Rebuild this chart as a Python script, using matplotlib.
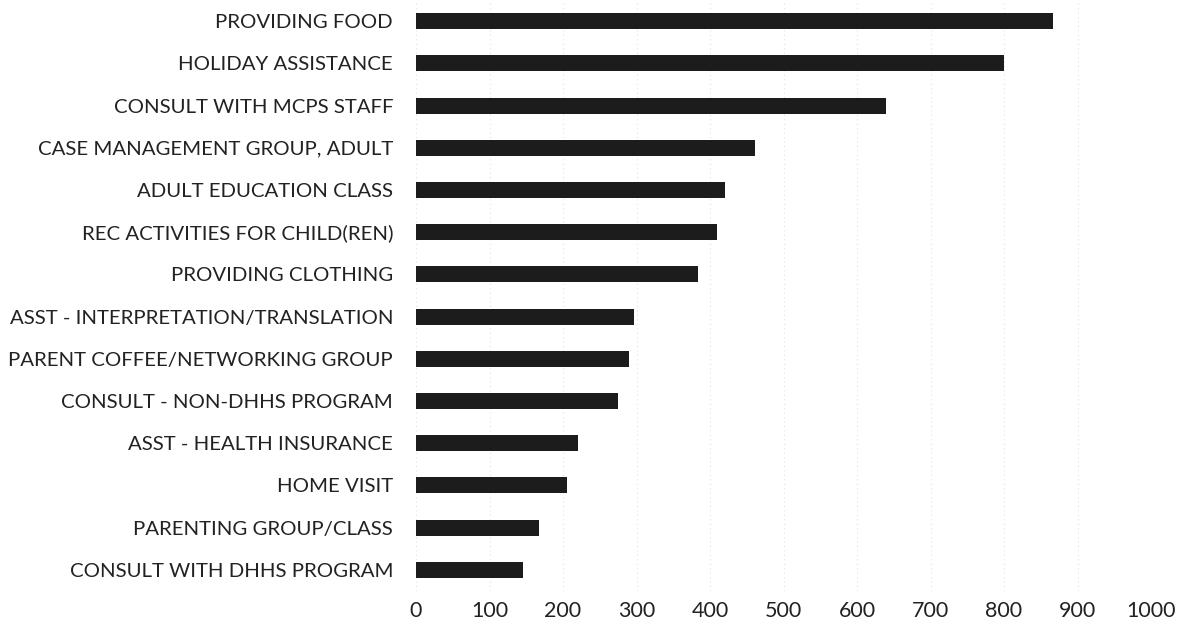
import matplotlib
matplotlib.use("Agg")
import matplotlib.pyplot as plt

categories = [
    "PROVIDING FOOD",
    "HOLIDAY ASSISTANCE",
    "CONSULT WITH MCPS STAFF",
    "CASE MANAGEMENT GROUP, ADULT",
    "ADULT EDUCATION CLASS",
    "REC ACTIVITIES FOR CHILD(REN)",
    "PROVIDING CLOTHING",
    "ASST - INTERPRETATION/TRANSLATION",
    "PARENT COFFEE/NETWORKING GROUP",
    "CONSULT - NON-DHHS PROGRAM",
    "ASST - HEALTH INSURANCE",
    "HOME VISIT",
    "PARENTING GROUP/CLASS",
    "CONSULT WITH DHHS PROGRAM",
]
values = [867, 800, 639, 461, 421, 410, 384, 297, 290, 275, 221, 206, 168, 145]
xticks = [0, 100, 200, 300, 400, 500, 600, 700, 800, 900, 1000]

plt.rcParams['font.family'] = ['Lato', 'DejaVu Sans']

fig = plt.figure(figsize=(11.86, 6.35), dpi=100)
ax = fig.add_axes([416/1186, 1 - 591/635, (1151-416)/1186, 591/635])

ypos = list(range(len(categories)))
ax.barh(ypos, values, height=0.38, color='#1c1c1c', zorder=3)
ax.set_yticks(ypos)
ax.set_yticklabels(categories, fontsize=14.7, color='#222222')
ax.set_ylim(len(categories) - 0.5, -0.5)
ax.set_xlim(0, 1000)
ax.set_xticks(xticks)
ax.set_xticklabels([str(t) for t in xticks], fontsize=15.5, color='#222222')
ax.tick_params(axis='y', length=0, pad=16.5)
ax.tick_params(axis='x', length=0, pad=7)
for s in ax.spines.values():
    s.set_visible(False)
ax.grid(axis='x', color='#dde1e5', linestyle=(0, (1, 3)), linewidth=0.8, zorder=0)
ax.set_axisbelow(True)

fig.savefig("out.png", dpi=100, facecolor='white')
